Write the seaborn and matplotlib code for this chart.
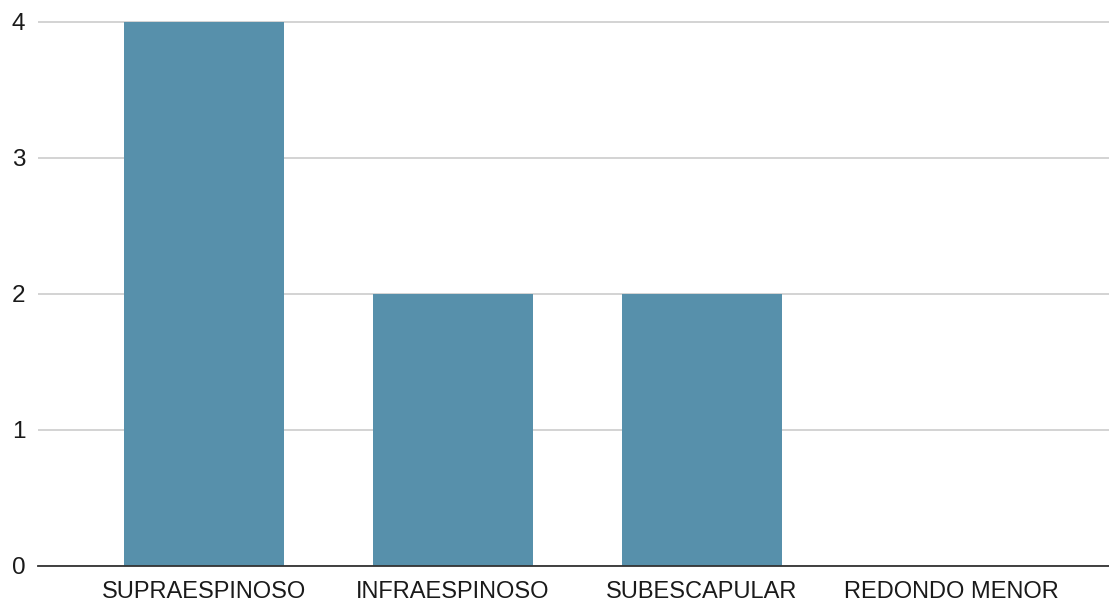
import matplotlib
matplotlib.use("Agg")
import matplotlib.pyplot as plt
import seaborn as sns
import pandas as pd

categories = ["SUPRAESPINOSO", "INFRAESPINOSO", "SUBESCAPULAR", "REDONDO MENOR"]
values = [4, 2, 2, 0]
y_ticks = [0, 1, 2, 3, 4]

sns.set_theme(style="white")
plt.rcParams["font.family"] = ["Liberation Sans", "DejaVu Sans"]

df = pd.DataFrame({"muscle": categories, "count": values})

fig = plt.figure(figsize=(11.09, 6.05), dpi=100)
ax = fig.add_axes([38 / 1109, 1 - 566 / 605, 1071 / 1109, (566 - 21) / 605])

sns.barplot(data=df, x="muscle", y="count", color="#5790ab", saturation=1,
            width=0.643, linewidth=0, ax=ax, zorder=3)

ax.set_xlim(-0.667, 3.635)
ax.set_ylim(0, 4.005)
ax.set_yticks(y_ticks)
ax.set_yticklabels([str(t) for t in y_ticks])
ax.yaxis.grid(True, color="#cccccc", linewidth=1.2, zorder=0)
ax.set_axisbelow(True)

for side in ["top", "right", "left"]:
    ax.spines[side].set_visible(False)
ax.spines["bottom"].set_color("#333333")
ax.spines["bottom"].set_linewidth(1.3)
ax.spines["bottom"].set_zorder(4)

ax.tick_params(axis="y", length=0, pad=9, labelsize=17.5, labelcolor="#1a1a1a")
ax.tick_params(axis="x", length=0, pad=11, labelsize=17, labelcolor="#1a1a1a")
ax.set_xlabel("")
ax.set_ylabel("")

fig.savefig("out.png", dpi=100)
